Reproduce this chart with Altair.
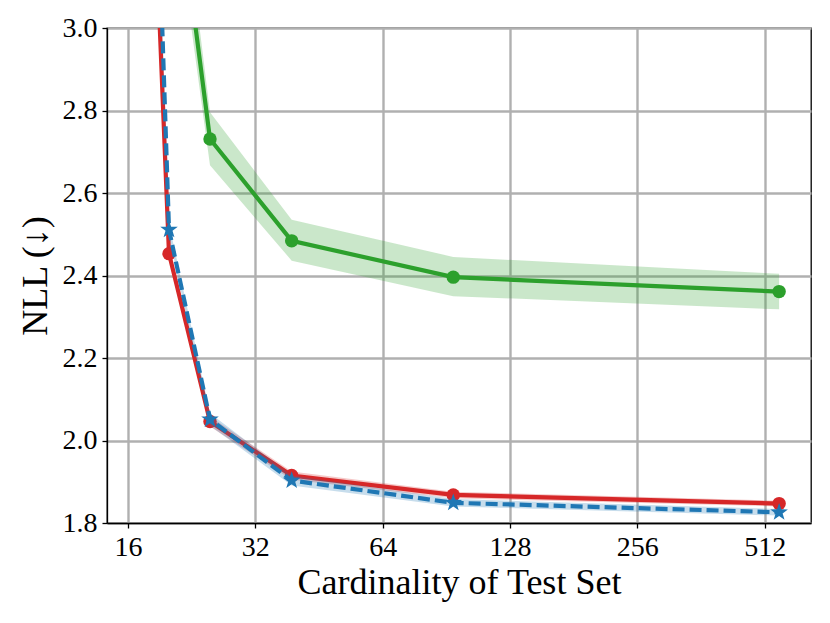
import math
import altair as alt
import pandas as pd

# ---- data ----
cards = [16, 20, 25, 39, 94, 554]

green_mean = [4.50, 3.50, 2.731, 2.484, 2.396, 2.361]
green_lo = [4.40, 3.40, 2.667, 2.436, 2.350, 2.318]
green_hi = [4.60, 3.60, 2.796, 2.535, 2.445, 2.404]

red_mean = [4.89, 2.453, 2.046, 1.915, 1.868, 1.847]
red_lo = [4.86, 2.438, 2.034, 1.905, 1.860, 1.840]
red_hi = [4.92, 2.468, 2.058, 1.925, 1.876, 1.854]

blue_mean = [5.48, 2.511, 2.051, 1.903, 1.849, 1.826]
blue_lo = [5.45, 2.496, 2.036, 1.891, 1.840, 1.818]
blue_hi = [5.51, 2.526, 2.066, 1.915, 1.858, 1.834]

x_ticks = [16, 32, 64, 128, 256, 512]
y_ticks = [1.8, 2.0, 2.2, 2.4, 2.6, 2.8, 3.0]

GREEN = "#2ca02c"
RED = "#d62728"
BLUE = "#1f77b4"
FONT = "Liberation Serif"

# five-pointed star symbol path in the [-1, 1] box (marker shape, not data)
_pts = []
for k in range(10):
    ang = math.radians(-90 + 36 * k)
    rad = 1.0 if k % 2 == 0 else 0.40
    _pts.append(f"{rad * math.cos(ang):.4f},{rad * math.sin(ang):.4f}")
STAR = "M" + "L".join(_pts) + "Z"

axis_style = dict(
    labelFont=FONT,
    titleFont=FONT,
    labelFontSize=28,
    titleFontSize=36,
    titleFontWeight="normal",
    labelFontWeight="normal",
    labelColor="black",
    titleColor="black",
    grid=True,
    gridColor="#b0b0b0",
    gridWidth=2.4,
    gridOpacity=1,
    domainColor="black",
    domainWidth=1.3,
    tickColor="black",
    tickWidth=1.3,
    tickSize=5,
    labelPadding=5,
)

xscale = alt.Scale(type="log", base=2, domain=[14.27, 659], nice=False)
yscale = alt.Scale(domain=[1.8, 3.0], nice=False, zero=False)

xaxis = alt.Axis(values=x_ticks, format="d", title="Cardinality of Test Set",
                 titlePadding=4, **axis_style)
yaxis = alt.Axis(values=y_ticks, format=".1f", title="NLL (↓)",
                 titlePadding=8, **axis_style)


def frame(mean, lo, hi):
    return pd.DataFrame({"x": cards, "m": mean, "lo": lo, "hi": hi})


def series(df, color, dashed=False, shape="circle", size=125):
    base = alt.Chart(df).encode(x=alt.X("x:Q", scale=xscale, axis=xaxis))
    band = base.mark_area(color=color, opacity=0.25, clip=True).encode(
        y=alt.Y("lo:Q", scale=yscale, axis=yaxis),
        y2="hi:Q",
    )
    line_kw = dict(color=color, strokeWidth=4.2, clip=True)
    if dashed:
        line_kw["strokeDash"] = [12, 5]
    line = base.mark_line(**line_kw).encode(y=alt.Y("m:Q", scale=yscale, axis=yaxis))
    pts = base.mark_point(
        shape=shape, filled=True, color=color, size=size, opacity=1, clip=True
    ).encode(y=alt.Y("m:Q", scale=yscale, axis=yaxis))
    return band, line, pts


g = series(frame(green_mean, green_lo, green_hi), GREEN, size=180)
r = series(frame(red_mean, red_lo, red_hi), RED, size=180)
b = series(frame(blue_mean, blue_lo, blue_hi), BLUE, dashed=True, shape=STAR, size=340)

chart = (
    alt.layer(g[0], g[1], g[2], r[0], r[1], r[2], b[0], b[1], b[2])
    .properties(
        width=704,
        height=495,
        padding={"left": 9, "top": 6, "right": 10, "bottom": 5},
    )
    .configure(
        font=FONT,
        style={"guide-label": {"font": FONT}, "guide-title": {"font": FONT}},
    )
    .configure_axis(labelFont=FONT, titleFont=FONT)
    .configure_view(stroke="black", strokeWidth=1.3)
)

chart.save("out.html", embed_options={"renderer": "svg", "actions": False})
